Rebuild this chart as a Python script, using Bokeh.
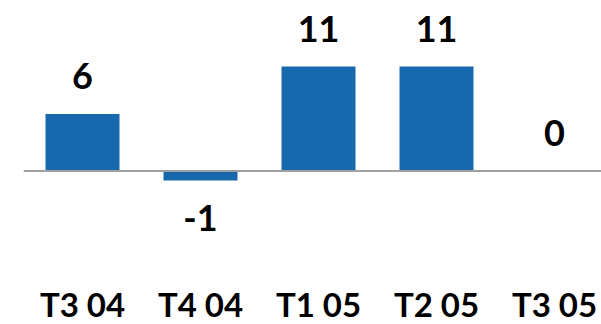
from bokeh.plotting import figure
from bokeh.models import ColumnDataSource, Range1d, Span
from bokeh.embed import file_html
from bokeh.resources import INLINE
from bokeh.core.properties import value
import numpy as np

# Data
categories = ["T3 04", "T4 04", "T1 05", "T2 05", "T3 05"]
values = [6, -1, 11, 11, 0]
value_labels = ["6", "-1", "11", "11", "0"]

BAR = "#1868AE"
FONT = "Lato"

idx = list(range(len(categories)))
v = np.array(values, dtype=float)
src = ColumnDataSource(dict(
    x=idx,
    top=values,
    lbl=value_labels,
    cat=categories,
    yo=np.where(v >= 0, -38, 37).tolist(),
))

Y0, Y1 = -16.16, 17.95
p = figure(width=601, height=324, output_backend="svg", toolbar_location=None,
           x_range=Range1d(-0.5, 4.398), y_range=Range1d(Y0, Y1),
           min_border_left=23, min_border_right=0, min_border_top=0, min_border_bottom=0)

p.vbar(x="x", top="top", bottom=0, width=0.627, source=src,
       fill_color=BAR, line_color=None)

p.add_layout(Span(location=0, dimension="width", line_color="#A0A0A0", line_width=2))

# value labels
p.text(x="x", y="top", text="lbl", source=src, y_offset="yo",
       text_align="center", text_baseline="alphabetic",
       text_font=value(FONT), text_font_style="bold", text_font_size="36px",
       text_color="#000000")

# category labels along the bottom
p.text(x="x", y=Y0, text="cat", source=src, y_offset=-21,
       text_align="center", text_baseline="alphabetic",
       text_font=value(FONT), text_font_style="bold", text_font_size="33px",
       text_color="#000000")

p.axis.visible = False
p.grid.visible = False
p.outline_line_color = None
p.background_fill_color = "white"
p.border_fill_color = "white"

open("out.html", "w").write(file_html(p, INLINE))
